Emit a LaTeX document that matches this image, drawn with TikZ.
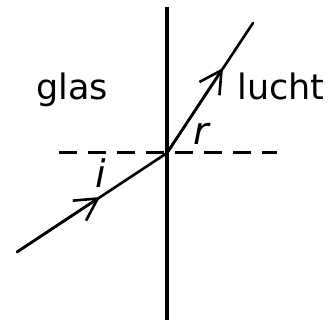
\documentclass[tikz,border=0pt]{standalone}
\usepackage{fontspec}
\setmainfont{DejaVu Sans}
\usetikzlibrary{arrows.meta}
\tikzset{
  ray/.style={line width=2.6pt, line cap=round},
  raytip/.style={-{Straight Barb[length=22pt,width=24pt,line width=2.6pt]}},
  boundary/.style={line width=4.6pt},
  normalline/.style={line width=3pt, dash pattern=on 18pt off 11pt},
  medium/.style={font=\fontsize{35}{40}\selectfont, inner sep=0pt, anchor=base},
  angle/.style={font=\fontsize{38}{44}\selectfont\itshape, inner sep=0pt, anchor=base}
}
\begin{document}
\begin{tikzpicture}[x=1pt,y=-1pt]
\useasboundingbox (0,0) rectangle (332,320);
\coordinate (top) at (167,7);
\coordinate (bot) at (167,320);
\coordinate (nl) at (59,153);
\coordinate (nr) at (277,153);
\coordinate (O) at (167,153);
\coordinate (inS) at (17,252);
\coordinate (inM) at (100,197);
\coordinate (outM) at (223,68);
\coordinate (outE) at (253,23);
\draw[boundary] (top) -- (bot);
\draw[normalline] (nl) -- (nr);
\draw[ray] (inS) -- (O) -- (outE);
\draw[ray,raytip] (inS) -- (inM);
\draw[ray,raytip] (O) -- (outM);
\node[medium] (glas) at (72,100) {glas};
\node[medium] (lucht) at (281,100) {lucht};
\node[angle] (i) at (101,188) {i};
\node[angle] (r) at (201,145) {r};
\end{tikzpicture}
\end{document}
